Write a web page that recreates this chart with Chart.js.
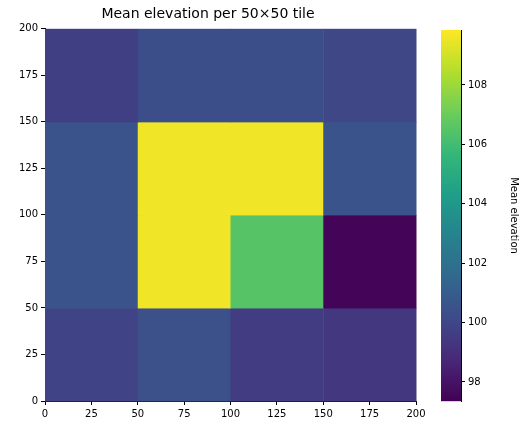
<!DOCTYPE html>
<html><head><meta charset="utf-8">
<script src="https://cdn.jsdelivr.net/npm/chart.js@4"></script>
<style>
body{margin:0;background:#fff;width:524px;height:435px;position:relative;overflow:hidden}
canvas{position:absolute;top:0}
</style></head><body>
<div style="position:absolute;left:0;top:0;width:524px;height:435px"><canvas id="main"></canvas></div>
<div style="position:absolute;left:400px;top:0;width:124px;height:435px"><canvas id="cbar"></canvas></div>
<script>
const xEdges = [0, 50, 100, 150, 200];
const yEdges = [0, 50, 100, 150, 200];
// rows from bottom (y 0-50) to top (y 150-200)
const cellValues = [
  [99.9, 100.4, 99.6, 99.4],
  [100.6, 109.6, 106.5, 97.5],
  [100.6, 109.6, 109.6, 100.6],
  [99.7, 100.3, 100.3, 100.0]
];
const vmin = 97.36, vmax = 109.85;
const axisTicks = [0, 25, 50, 75, 100, 125, 150, 175, 200];
const cbTicks = [98, 100, 102, 104, 106, 108];

const viridis = [[68,1,84],[72,40,120],[62,74,137],[49,104,142],[38,130,142],[31,158,137],[53,183,121],[109,205,89],[180,222,44],[253,231,37]];
function cmap(v) {
  let t = Math.min(1, Math.max(0, (v - vmin) / (vmax - vmin))) * (viridis.length - 1);
  let i = Math.min(viridis.length - 2, Math.floor(t)), f = t - i;
  let c = viridis[i].map((a, k) => Math.round(a + (viridis[i + 1][k] - a) * f));
  return `rgb(${c.join(",")})`;
}

const font = {family: "DejaVu Sans", size: 10};
const axisStyle = {
  grid: {display: true, drawOnChartArea: false, drawTicks: true, tickLength: 4, color: "#000"},
  border: {display: true, color: "#000"},
  ticks: {color: "#000", font: font}
};

const heatPlugin = {
  id: "heat",
  beforeDatasetsDraw(chart) {
    const {ctx, scales: {x, y}} = chart;
    cellValues.forEach((row, r) => row.forEach((v, c) => {
      const x0 = x.getPixelForValue(xEdges[c]), x1 = x.getPixelForValue(xEdges[c + 1]);
      const y0 = y.getPixelForValue(yEdges[r + 1]), y1 = y.getPixelForValue(yEdges[r]);
      ctx.fillStyle = cmap(v);
      ctx.fillRect(x0, y0, x1 - x0 + 0.5, y1 - y0 + 0.5);
    }));
  }
};

new Chart(document.getElementById("main"), {
  type: "scatter",
  data: {datasets: [{data: []}]},
  options: {
    responsive: true, maintainAspectRatio: false, animation: false,
    layout: {padding: {left: 0, right: 108, top: 0, bottom: 12}},
    plugins: {legend: {display: false}, tooltip: {enabled: false},
      title: {display: true, text: "Mean elevation per 50×50 tile", color: "#000",
        font: {family: "DejaVu Sans", size: 14, weight: "normal"}, padding: {top: 6, bottom: 6}}},
    scales: {
      x: {...axisStyle, type: "linear", min: 0, max: 200, afterBuildTicks: a => { a.ticks = axisTicks.map(v => ({value: v})); }},
      y: {...axisStyle, type: "linear", min: 0, max: 200, afterFit: a => { a.width = 45; },
        afterBuildTicks: a => { a.ticks = axisTicks.map(v => ({value: v})); }}
    }
  },
  plugins: [heatPlugin]
});

const cbPlugin = {
  id: "cb",
  beforeDatasetsDraw(chart) {
    const {ctx, chartArea: a, scales: {y}} = chart;
    for (let p = a.top; p < a.bottom; p++) {
      ctx.fillStyle = cmap(y.getValueForPixel(p + 0.5));
      ctx.fillRect(a.left, p, a.right - a.left, 1.2);
    }
  }
};

new Chart(document.getElementById("cbar"), {
  type: "scatter",
  data: {datasets: [{data: []}]},
  options: {
    responsive: true, maintainAspectRatio: false, animation: false,
    layout: {padding: {left: 41, right: 0, top: 30, bottom: 34}},
    plugins: {legend: {display: false}, tooltip: {enabled: false}},
    scales: {
      x: {display: false, min: 0, max: 1},
      y: {...axisStyle, position: "right", min: vmin, max: vmax,
        afterFit: a => { a.width = 63; },
        afterBuildTicks: a => { a.ticks = cbTicks.map(v => ({value: v})); },
        title: {display: true, text: "Mean elevation", color: "#000", font: font}}
    }
  },
  plugins: [cbPlugin]
});
</script>
</body></html>
